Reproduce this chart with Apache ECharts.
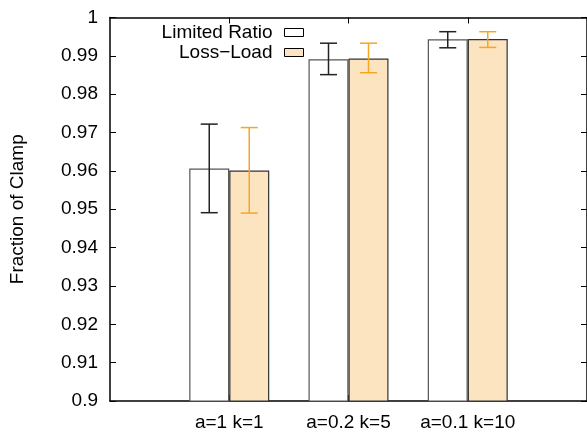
<!DOCTYPE html>
<html>
<head>
<meta charset="utf-8">
<script src="https://cdn.jsdelivr.net/npm/echarts@6/dist/echarts.min.js"></script>
<style>html,body{margin:0;padding:0;background:#fff}#c{width:587px;height:432px}</style>
</head>
<body>
<div id="c"></div>
<script>
const categories = ['', 'a=1 k=1', 'a=0.2 k=5', 'a=0.1 k=10', ''];
const limitedRatio = [null, 0.9606, 0.9891, 0.9943, null];
const limitedRatioLow = [null, 0.9491, 0.9851, 0.9921, null];
const limitedRatioHigh = [null, 0.9722, 0.9933, 0.9963, null];
const lossLoad = [null, 0.9601, 0.9893, 0.9944, null];
const lossLoadLow = [null, 0.9490, 0.9856, 0.9922, null];
const lossLoadHigh = [null, 0.9713, 0.9933, 0.9963, null];
const yTicks = [0.9, 0.91, 0.92, 0.93, 0.94, 0.95, 0.96, 0.97, 0.98, 0.99, 1];

const FONT = 'Liberation Sans, Arial, Helvetica, sans-serif';
const FS = 19;
const chart = echarts.init(document.getElementById('c'), null, {renderer: 'canvas'});

function errData(low, high) {
  const out = [];
  for (let i = 0; i < categories.length; i++) {
    if (low[i] != null) out.push([i, low[i], high[i]]);
  }
  return out;
}
function errRender(offset, color) {
  return function (params, api) {
    const i = api.value(0);
    const lo = api.coord([i, api.value(1)]);
    const hi = api.coord([i, api.value(2)]);
    const x = lo[0] + offset;
    const hw = 8.5;
    const st = {stroke: color, lineWidth: 1.5};
    return {
      type: 'group',
      children: [
        {type: 'line', shape: {x1: x, y1: lo[1], x2: x, y2: hi[1]}, style: st},
        {type: 'line', shape: {x1: x - hw, y1: lo[1], x2: x + hw, y2: lo[1]}, style: st},
        {type: 'line', shape: {x1: x - hw, y1: hi[1], x2: x + hw, y2: hi[1]}, style: st}
      ]
    };
  };
}

const catTick = {show: true, inside: true, length: 6, lineStyle: {color: '#000', width: 1},
  interval: function (idx) { return idx >= 1 && idx <= 3; }};

chart.setOption({
  animation: false,
  backgroundColor: '#fff',
  textStyle: {fontFamily: FONT},
  grid: {left: 110, right: -2, top: 17.5, bottom: 30, containLabel: false},
  legend: {
    show: true,
    right: 278, top: 18,
    orient: 'vertical',
    align: 'right',
    itemWidth: 19, itemHeight: 8, itemGap: 1,
    itemStyle: {borderColor: '#000', borderWidth: 1},
    textStyle: {fontSize: FS, lineHeight: 18, fontFamily: FONT, color: '#000', padding: [0, 7, 0, 0]},
    data: [
      {name: 'Limited Ratio', icon: 'rect'},
      {name: 'Loss\u2212Load', icon: 'rect'}
    ]
  },
  xAxis: [
    {
      type: 'category', data: categories, boundaryGap: false, position: 'bottom',
      axisLine: {show: true, lineStyle: {color: '#000', width: 1.5}},
      axisTick: catTick,
      axisLabel: {show: true, fontSize: FS, color: '#000', margin: 12, fontFamily: FONT,
        interval: function (idx) { return idx >= 1 && idx <= 3; }},
      splitLine: {show: false}
    },
    {
      type: 'category', data: categories, boundaryGap: false, position: 'top',
      axisLine: {show: true, lineStyle: {color: '#000', width: 1.5}},
      axisTick: catTick,
      axisLabel: {show: false},
      splitLine: {show: false}
    }
  ],
  yAxis: [
    {
      type: 'value', min: 0.9, max: 1, interval: 0.01, position: 'left',
      name: 'Fraction of Clamp', nameLocation: 'middle', nameRotate: 90, nameGap: 83,
      nameTextStyle: {fontSize: FS, color: '#000', fontFamily: FONT},
      axisLine: {show: true, lineStyle: {color: '#000', width: 1.5}},
      axisTick: {show: true, inside: true, length: 6, lineStyle: {color: '#000'}},
      axisLabel: {fontSize: FS, color: '#000', margin: 12, fontFamily: FONT,
        formatter: function (v) { return String(+v.toFixed(2)); }},
      splitLine: {show: false}
    },
    {
      type: 'value', min: 0.9, max: 1, interval: 0.01, position: 'right',
      axisLine: {show: true, lineStyle: {color: '#000', width: 1.5}},
      axisTick: {show: true, inside: true, length: 6, lineStyle: {color: '#000'}},
      axisLabel: {show: false},
      splitLine: {show: false}
    }
  ],
  series: [
    {
      name: 'Limited Ratio', type: 'bar', data: limitedRatio, barWidth: 40, barGap: '0%',
      itemStyle: {color: '#ffffff', borderColor: '#555', borderWidth: 1.2},
      emphasis: {disabled: true}
    },
    {
      name: 'Loss\u2212Load', type: 'bar', data: lossLoad, barWidth: 40, barGap: '0%',
      itemStyle: {color: '#fce4c1', borderColor: '#333', borderWidth: 1.2},
      emphasis: {disabled: true}
    },
    {
      type: 'custom', data: errData(limitedRatioLow, limitedRatioHigh),
      renderItem: errRender(-20, '#222'), z: 5, silent: true
    },
    {
      type: 'custom', data: errData(lossLoadLow, lossLoadHigh),
      renderItem: errRender(20, '#f5a623'), z: 5, silent: true
    }
  ]
});
</script>
</body>
</html>
